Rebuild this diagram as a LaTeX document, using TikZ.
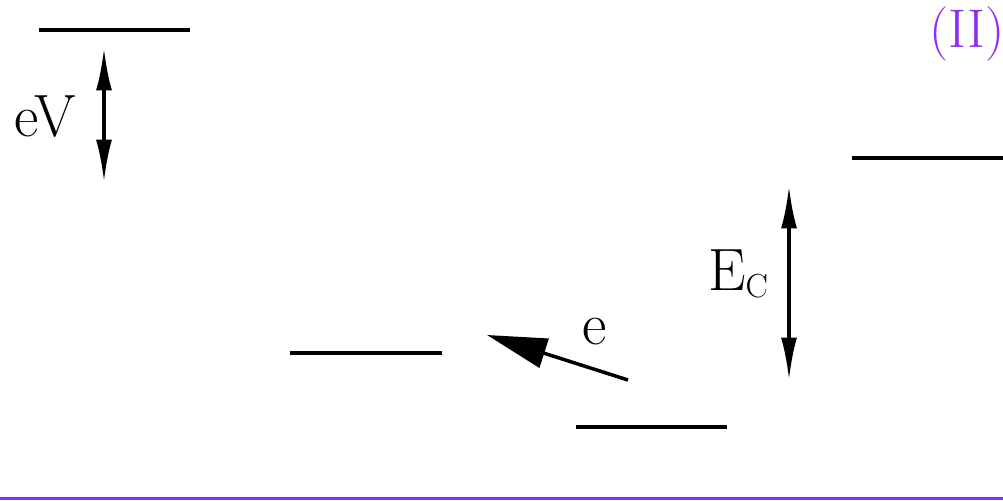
\documentclass[tikz,border=0pt]{standalone}
\usetikzlibrary{arrows.meta}
\definecolor{stagecol}{RGB}{140,45,240}
\newcommand{\subC}{\raisebox{-0.3ex}{\fontsize{19}{22}\selectfont C}}
\begin{document}
\begin{tikzpicture}[x=0.02cm,y=-0.02cm,
        level/.style={line width=2.3pt},
        gap/.style={line width=2pt,{Latex[length=0.85cm,width=0.32cm]}-{Latex[length=0.85cm,width=0.32cm]}},
        hop/.style={line width=2pt,-{Triangle[length=1.2cm,width=0.6cm]}},
        lbl/.style={font=\fontsize{34}{40}\selectfont,inner sep=0pt}]
        \useasboundingbox (0,0) rectangle (1003,500);
        % Levels (left to right)
        \draw[level] (39,30) -- (190,30); \draw[level] (290,353) --
        (442,353); \draw[level] (576,427) -- (727,427); \draw[level]
        (852,158) -- (1003,158);

        % Bias eV
        \coordinate (vtop) at (104,48); \coordinate (vbot) at (104,182);
        \draw[gap] (vtop) -- (vbot);
        \node[lbl] (eV) at (45,117) {eV};

        % Charging energy
        \coordinate (ctop) at (789,186); \coordinate (cbot) at (789,380);
        \draw[gap] (ctop) -- (cbot);
        \node[lbl] (Ec) at (738,274) {E\subC};

        % Electron hop
        \coordinate (hstart) at (628,380); \coordinate (hend) at (487,335);
        \draw[hop] (hstart) -- (hend);
        \node[lbl] (el) at (595,332) {e};

        % Stage label and rule
        \node[lbl,font=\fontsize{31}{36}\selectfont,text=stagecol,anchor=west]
        (stage) at (929,34) {(II)};
        \draw[stagecol,line width=1.6pt] (0,498.5) -- (1003,498.5);
\end{tikzpicture}
\end{document}
